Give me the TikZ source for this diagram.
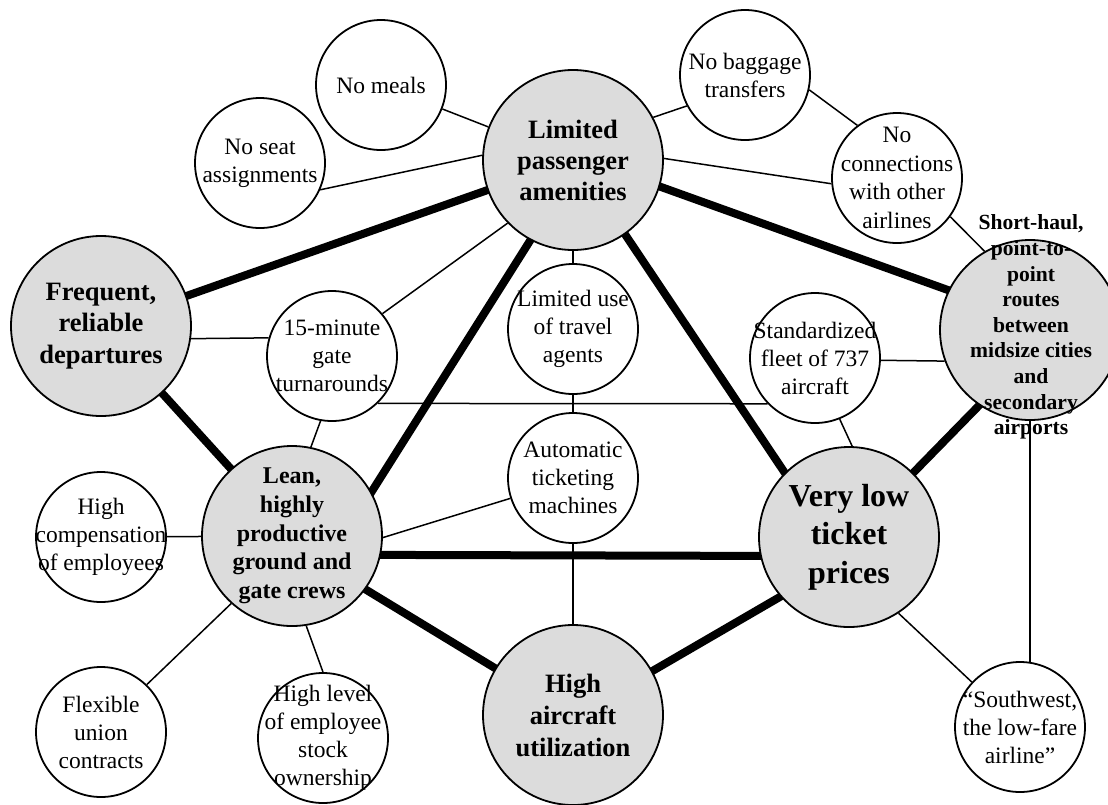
\documentclass[tikz,border=0pt]{standalone}
\usepackage{fontspec}
\setmainfont{Liberation Serif}
\usetikzlibrary{backgrounds}
\definecolor{ovalgray}{RGB}{220,220,220}
\begin{document}
\begin{tikzpicture}[x=1pt,y=-1pt,
  sub/.style={circle,draw,line width=1.8pt,fill=white,minimum size=130pt,inner sep=0pt},
  major/.style={circle,draw,line width=1.8pt,fill=ovalgray,minimum size=180pt,inner sep=0pt},
  subtxt/.style={align=center,inner sep=0pt,font=\fontsize{23.5}{28}\selectfont},
  majtxt/.style={align=center,inner sep=0pt,font=\bfseries\fontsize{26.5}{31.5}\selectfont},
  link/.style={line width=1.5pt},
  bond/.style={line width=8pt,shorten <=-5pt,shorten >=-5pt}]
\useasboundingbox (0,0) rectangle (1108,804);

% circles
\node[sub] (meals) at (381,85) {};
\node[sub] (seat) at (260,163) {};
\node[major] (lpa) at (573,160) {};
\node[sub] (bag) at (745,75) {};
\node[sub] (conn) at (897,178) {};
\node[major] (sh) at (1030,330) {};
\node[major] (freq) at (101,326) {};
\node[sub] (t15) at (332,356) {};
\node[major] (lean) at (292,536) {};
\node[sub] (comp) at (101,537) {};
\node[sub] (flex) at (101,732) {};
\node[sub] (stock) at (323,738) {};
\node[sub] (agents) at (573,329) {};
\node[sub] (auto) at (573,478) {};
\node[sub] (fleet) at (815,358) {};
\node[major] (vlow) at (849,537) {};
\node[major] (util) at (573,715) {};
\node[sub] (sw) at (1020,727) {};

% texts
\node[subtxt] (meals-t) at (meals) {No meals};
\node[subtxt] (seat-t) at (seat) {No seat\\assignments};
\node[majtxt,font=\bfseries\fontsize{26.5}{31}\selectfont] (lpa-t) at (lpa) {Limited\\passenger\\amenities};
\node[subtxt] (bag-t) at (bag) {No baggage\\transfers};
\node[subtxt,font=\fontsize{23.5}{28.5}\selectfont] (conn-t) at (conn) {No\\connections\\with other\\airlines};
\node[majtxt,font=\bfseries\fontsize{21.6}{25.6}\selectfont] (sh-t) at (1031,327) {Short-haul,\\point-to-\\point\\routes\\between\\midsize cities\\and\\secondary\\airports};
\node[majtxt] (freq-t) at (freq) {Frequent,\\reliable\\departures};
\node[subtxt] (t15-t) at (t15) {15-minute\\gate\\turnarounds};
\node[majtxt,font=\bfseries\fontsize{24}{28.7}\selectfont] (lean-t) at (lean) {Lean,\\highly\\productive\\ground and\\gate crews};
\node[subtxt] (comp-t) at (comp) {High\\compensation\\of employees};
\node[subtxt] (flex-t) at (flex) {Flexible\\union\\contracts};
\node[subtxt] (stock-t) at (stock) {High level\\of employee\\stock\\ownership};
\node[subtxt] (agents-t) at (agents) {Limited use\\of travel\\agents};
\node[subtxt] (auto-t) at (auto) {Automatic\\ticketing\\machines};
\node[subtxt] (fleet-t) at (fleet) {Standardized\\fleet of 737\\aircraft};
\node[majtxt,font=\bfseries\fontsize{32}{38.5}\selectfont] (vlow-t) at (vlow) {Very low\\ticket\\prices};
\node[majtxt,font=\bfseries\fontsize{26.5}{32}\selectfont] (util-t) at (util) {High\\aircraft\\utilization};
\node[subtxt] (sw-t) at (sw) {“Southwest,\\the low-fare\\airline”};

% connectors
\begin{scope}[on background layer]
\draw[link] (meals) -- (lpa);
\draw[link] (seat.-24) -- (lpa.177);
\draw[link] (bag.208) -- (lpa.28);
\draw[link] (bag.-13) -- (conn.127);
\draw[link] (lpa.1) -- (conn.185);
\draw[link] (conn.-36) -- (sh.120);
\draw[link] (freq.-8) -- (t15.164);
\draw[link] (t15.40) -- (lpa.224);
\draw[link] (t15.260) -- (lean.78);
\draw[link] (t15.-46) -- (fleet.224);
\draw[link] (lpa) -- (agents);
\draw[link] (agents) -- (auto);
\draw[link] (auto.198) -- (lean.-1);
\draw[link] (auto) -- (util);
\draw[link] (fleet.-2) -- (sh.200);
\draw[link] (fleet.-68) -- (vlow.88);
\draw[link] (vlow.-57) -- (sw.137);
\draw[link] (sh.south) -- (sh.south |- sw.center);
\draw[link] (comp) -- (lean);
\draw[link] (flex.46) -- (lean.-132);
\draw[link] (stock.north) -- (lean.-81);

\draw[bond] (freq) -- (lpa);
\draw[bond] (freq) -- (lean);
\draw[bond] (lpa.-118) -- (lean.29);
\draw[bond] (lpa.-55) -- (vlow.135);
\draw[bond] (lpa.-17) -- (sh.154);
\draw[bond] (sh.-124) -- (vlow.45);
\draw[bond] (lean.-12) -- (vlow.192);
\draw[bond] (lean.-36) -- (util.149);
\draw[bond] (util.29) -- (vlow.221);
\end{scope}
\end{tikzpicture}
\end{document}
